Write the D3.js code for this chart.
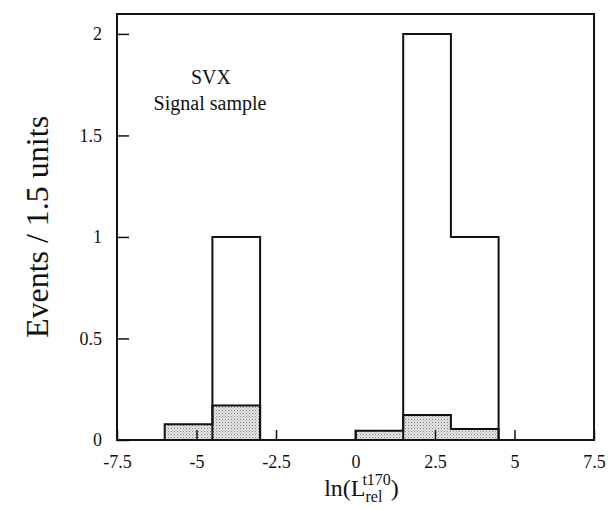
<!DOCTYPE html>
<html>
<head>
<meta charset="utf-8">
<script src="https://cdn.jsdelivr.net/npm/d3@7"></script>
<style>
  body { margin: 0; background: #fff; }
  text { font-family: "Liberation Serif", "Times New Roman", serif; fill: #111; }
</style>
</head>
<body>
<div id="chart"></div>
<script>
// bin edges, ln(L_rel) units (width 1.5)
const binEdges = [-7.5, -6, -4.5, -3, -1.5, 0, 1.5, 3, 4.5, 6, 7.5];
// signal sample (open histogram)
const signalCounts = [0, 0, 1, 0, 0, 0, 2, 1, 0, 0];
// shaded histogram
const shadedCounts = [0, 0.077, 0.17, 0, 0, 0.046, 0.123, 0.054, 0, 0];
const xTicks = [-7.5, -5, -2.5, 0, 2.5, 5, 7.5];
const yTicks = [0, 0.5, 1, 1.5, 2];

const W = 608, H = 510;
const margin = { top: 14, right: 14, bottom: 70, left: 117 };
const width = W - margin.left - margin.right;
const height = H - margin.top - margin.bottom;
const serif = "Liberation Serif";

const svg = d3.select("#chart").append("svg")
  .attr("width", W).attr("height", H);

// stipple pattern for the shaded histogram
const defs = svg.append("defs");
const pat = defs.append("pattern")
  .attr("id", "stipple").attr("patternUnits", "userSpaceOnUse")
  .attr("width", 3).attr("height", 3);
pat.append("rect").attr("width", 3).attr("height", 3).attr("fill", "#e6e6e6");
pat.append("rect").attr("x", 0).attr("y", 0).attr("width", 1).attr("height", 1).attr("fill", "#808080");
pat.append("rect").attr("x", 1.5).attr("y", 1.5).attr("width", 1).attr("height", 1).attr("fill", "#a0a0a0");

const g = svg.append("g").attr("transform", `translate(${margin.left},${margin.top})`);

const x = d3.scaleLinear().domain([-7.5, 7.5]).range([0, width]);
const y = d3.scaleLinear().domain([0, 2.098]).range([height, 0]);

// step data: one point per left edge, plus closing point
const toSteps = counts => binEdges.map((e, i) => ({ x: e, v: i < counts.length ? counts[i] : counts[counts.length - 1] }));

const area = d3.area().curve(d3.curveStepAfter)
  .x(d => x(d.x)).y0(y(0)).y1(d => y(d.v));
const line = d3.line().curve(d3.curveStepAfter)
  .x(d => x(d.x)).y(d => y(d.v));

const shaded = toSteps(shadedCounts);
g.append("path").datum(shaded).attr("d", area).attr("fill", "url(#stipple)");
g.append("path").datum(shaded).attr("d", line)
  .attr("fill", "none").attr("stroke", "#111").attr("stroke-width", 2);

g.append("path").datum(toSteps(signalCounts)).attr("d", line)
  .attr("fill", "none").attr("stroke", "#111").attr("stroke-width", 2);

// axes: inward ticks
const xAxis = g.append("g").attr("transform", `translate(0,${height})`)
  .call(d3.axisBottom(x).tickValues(xTicks).tickSizeInner(-10).tickSizeOuter(0).tickPadding(15)
    .tickFormat(d => String(d)));
const yAxis = g.append("g")
  .call(d3.axisLeft(y).tickValues(yTicks).tickSizeInner(-12).tickSizeOuter(0).tickPadding(15)
    .tickFormat(d => String(d)));

[xAxis, yAxis].forEach(a => {
  a.attr("font-family", serif);
  a.select(".domain").remove();
  a.selectAll(".tick line").attr("stroke", "#111").attr("stroke-width", 1.5);
  a.selectAll(".tick text").attr("font-size", 18).attr("font-family", serif);
});

// frame
g.append("rect").attr("width", width).attr("height", height)
  .attr("fill", "none").attr("stroke", "#111").attr("stroke-width", 2);

// labels
g.append("text").attr("x", 94).attr("y", 70).attr("text-anchor", "middle")
  .attr("font-family", serif).attr("font-size", 20).text("SVX");
g.append("text").attr("x", 93).attr("y", 96).attr("text-anchor", "middle")
  .attr("font-family", serif).attr("font-size", 20).text("Signal sample");

svg.append("text")
  .attr("transform", `translate(48,${margin.top + height / 2}) rotate(-90)`)
  .attr("text-anchor", "middle").attr("font-family", serif).attr("font-size", 32)
  .text("Events / 1.5 units");

const xt = svg.append("text").attr("x", margin.left + width / 2 + 6).attr("y", 496)
  .attr("text-anchor", "middle").attr("font-family", serif).attr("font-size", 24);
xt.append("tspan").text("ln(L");
xt.append("tspan").attr("font-size", 16).attr("dy", 6).text("rel");
xt.append("tspan").attr("font-size", 16).attr("dx", -20).attr("dy", -17).text("t170");
xt.append("tspan").attr("dy", 11).text(")");
</script>
</body>
</html>
